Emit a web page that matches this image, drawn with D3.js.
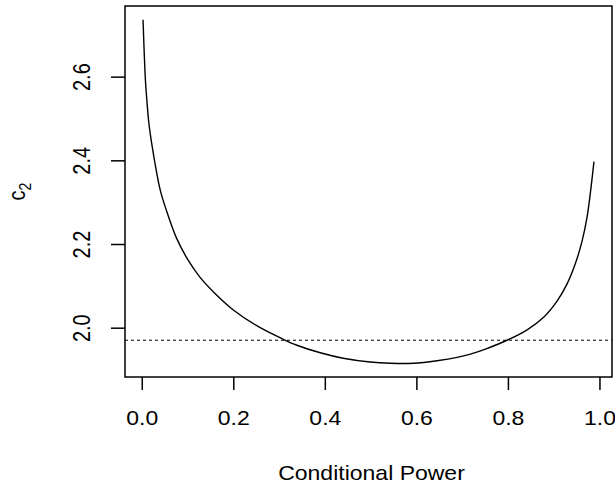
<!DOCTYPE html>
<html lang="en">
<head>
<meta charset="UTF-8">
<title>c2 vs Conditional Power</title>
<script src="https://d3js.org/d3.v7.min.js"></script>
<style>
    body { margin: 0; background: #fff; }
    text { font-family: "Liberation Sans", Arial, sans-serif; fill: #000; }
</style>
</head>
<body>
<div id="chart"></div>
<script>
// values
let condPower = [0.0028, 0.005, 0.008, 0.0116, 0.0153, 0.0197, 0.0234, 0.0284, 0.034, 0.038,
    0.043, 0.058, 0.076, 0.101, 0.127, 0.160, 0.203, 0.254, 0.306, 0.339, 0.390, 0.440,
    0.499, 0.543, 0.594, 0.645, 0.689, 0.718, 0.751, 0.798, 0.842, 0.878, 0.907, 0.929,
    0.947, 0.962, 0.973, 0.980, 0.988];
let c2 = [2.736, 2.668, 2.592, 2.537, 2.491, 2.455, 2.429, 2.396, 2.362, 2.340,
    2.318, 2.267, 2.214, 2.162, 2.121, 2.082, 2.040, 2.003, 1.974, 1.958, 1.940, 1.927,
    1.918, 1.915, 1.915, 1.921, 1.929, 1.937, 1.949, 1.970, 1.995, 2.025, 2.063, 2.104,
    2.152, 2.207, 2.265, 2.321, 2.397];
let refLine = 1.97;
let xTicks = [0, 0.2, 0.4, 0.6, 0.8, 1.0];
let yTicks = [2.0, 2.2, 2.4, 2.6];

let width = 615, height = 487;
let margin = {top: 6, right: 3, bottom: 110, left: 125};
let stretch = 1.15; // the reference text is a bit wide

let svg = d3.select("#chart").append("svg")
    .attr("width", width)
    .attr("height", height);

// R style 4% padding on the data range
function padded(arr) {
    let [lo, hi] = d3.extent(arr);
    let p = (hi - lo) * 0.04;
    return [lo - p, hi + p];
}

let x = d3.scaleLinear().domain(padded(condPower)).range([margin.left, width - margin.right]);
let y = d3.scaleLinear().domain(padded(c2)).range([height - margin.bottom, margin.top]);

let pts = condPower.map((d, i) => [d, c2[i]]);

// dotted reference line
svg.append("line")
    .attr("x1", margin.left).attr("x2", width - margin.right)
    .attr("y1", y(refLine)).attr("y2", y(refLine))
    .attr("stroke", "#000").attr("stroke-width", 1)
    .attr("stroke-dasharray", "3,3");

let line = d3.line()
    .x(d => x(d[0]))
    .y(d => y(d[1]))
    .curve(d3.curveCatmullRom.alpha(0.5));

svg.append("path")
    .datum(pts)
    .attr("fill", "none")
    .attr("stroke", "#000")
    .attr("stroke-width", 1.4)
    .attr("d", line);

// box
svg.append("rect")
    .attr("x", margin.left).attr("y", margin.top)
    .attr("width", width - margin.right - margin.left)
    .attr("height", height - margin.bottom - margin.top)
    .attr("fill", "none").attr("stroke", "#000").attr("stroke-width", 1.5);

// x axis
let xAxis = d3.axisBottom(x).tickValues(xTicks).tickFormat(d3.format(".1f")).tickSize(13).tickPadding(21);
let gx = svg.append("g")
    .attr("transform", `translate(0,${height - margin.bottom})`)
    .call(xAxis);
gx.select(".domain").remove();
gx.selectAll(".tick line").attr("stroke-width", 1.5);
gx.selectAll(".tick text")
    .attr("font-size", 20).attr("fill", "#000")
    .attr("transform", `scale(${stretch},1)`);

// y axis
let yAxis = d3.axisLeft(y).tickValues(yTicks).tickFormat(d3.format(".1f")).tickSize(14);
let gy = svg.append("g")
    .attr("transform", `translate(${margin.left},0)`)
    .call(yAxis);
gy.select(".domain").remove();
gy.selectAll(".tick line").attr("stroke-width", 1.5);
gy.selectAll(".tick text")
    .attr("font-size", 20).attr("fill", "#000")
    .attr("text-anchor", "middle")
    .attr("x", 0).attr("y", 0).attr("dy", 0)
    .attr("transform", `translate(-35,0) scale(${stretch},1) rotate(-90)`);

// axis titles
svg.append("text")
    .attr("transform", `translate(${(margin.left + width - margin.right) / 2 + 3},480) scale(${stretch},1)`)
    .attr("text-anchor", "middle")
    .attr("font-size", 20)
    .text("Conditional Power");

let ylab = svg.append("text")
    .attr("transform", `translate(25,${(margin.top + height - margin.bottom) / 2}) scale(${stretch},1) rotate(-90)`)
    .attr("text-anchor", "middle")
    .attr("font-size", 20);
ylab.append("tspan").text("c");
ylab.append("tspan").attr("font-size", 14).attr("dy", 5).text("2");
</script>
</body>
</html>
